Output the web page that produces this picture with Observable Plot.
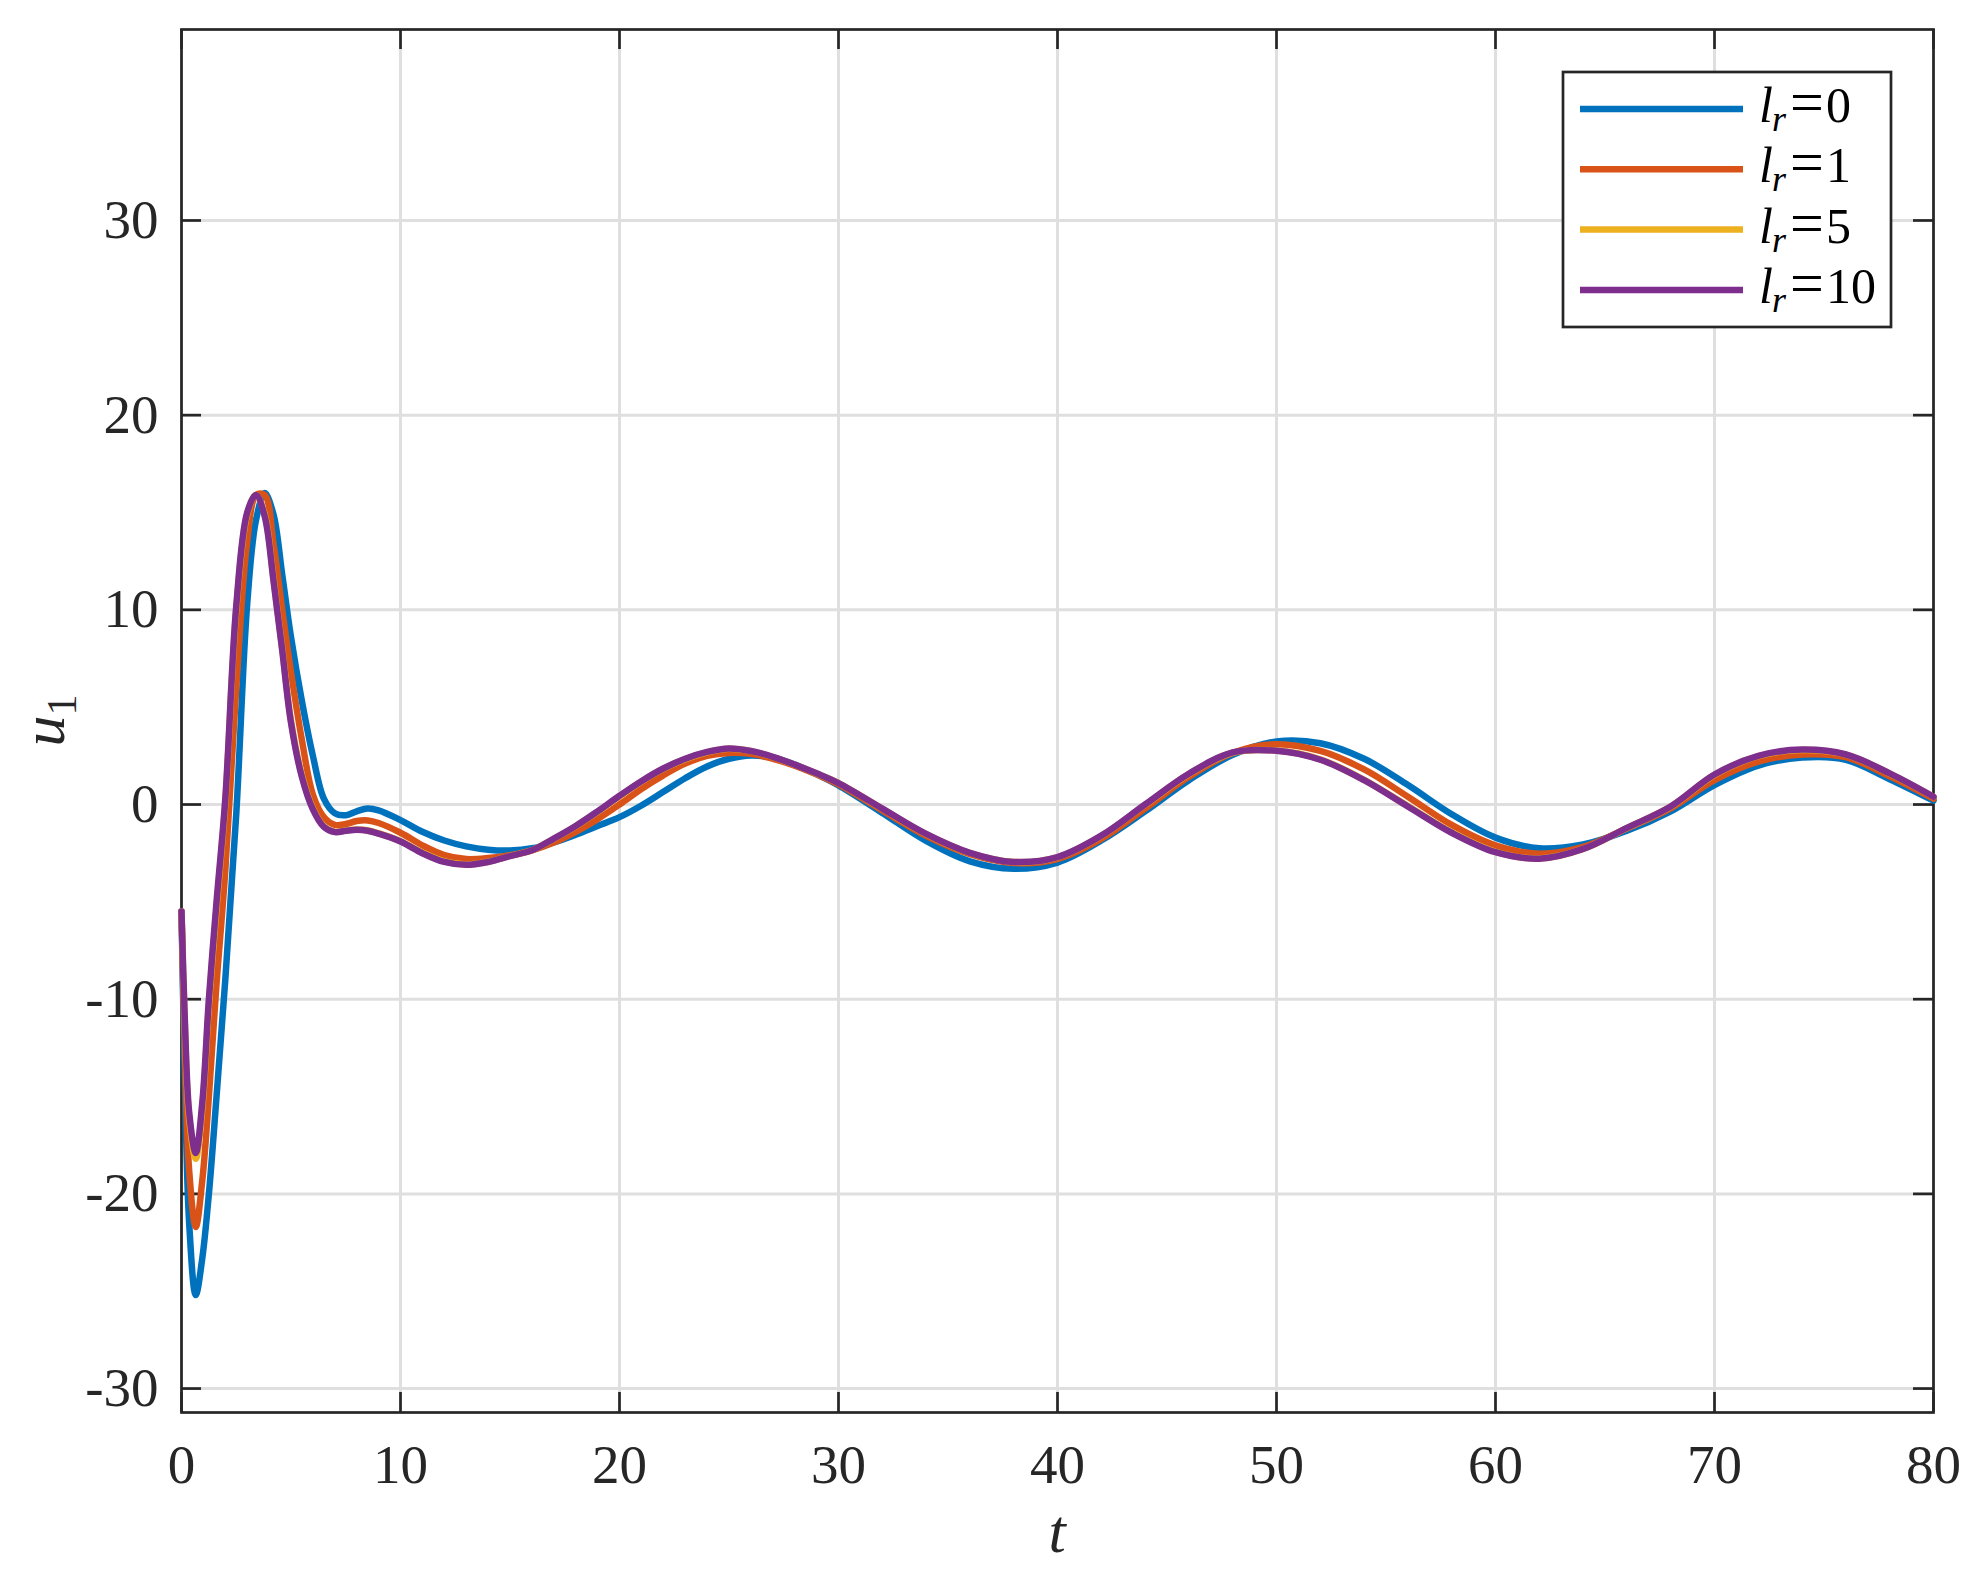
<!DOCTYPE html>
<html>
<head>
<meta charset="utf-8">
<script src="https://cdn.jsdelivr.net/npm/d3@7"></script>
<script src="https://cdn.jsdelivr.net/npm/@observablehq/plot@0.6"></script>
<style>
  body { margin: 0; background: #fff; }
  #chart { width: 1971px; height: 1571px; }
</style>
</head>
<body>
<div id="chart"></div>
<script>
// ---- data ----
const T = [0, 0.15, 0.35, 0.65, 0.95, 1.25, 1.6, 2.0, 2.5, 3.0,
  3.4, 3.8, 4.2, 4.6, 5.0, 5.5, 6.0, 6.5, 7.0, 7.5,
  8.0, 8.5, 9.0, 10, 11, 12, 13, 14, 15, 16,
  17, 18, 19, 20, 21, 22, 23, 24, 25, 26,
  27, 28, 29, 30, 32, 34, 36, 38, 40, 42,
  44, 46, 48, 50, 52, 54, 56, 58, 60, 62,
  64, 66, 68, 70, 72, 74, 76, 78, 80];

const U_lr0 = [-5.5, -14.0, -21.5, -25.2, -23.3, -20.0, -15.0, -9.0, -0.5, 10.3,
  14.6, 16.0, 14.9, 11.8, 8.6, 5.3, 2.5, 0.3, -0.45, -0.55,
  -0.35, -0.2, -0.3, -0.8, -1.4, -1.85, -2.15, -2.32, -2.36, -2.25,
  -1.95, -1.55, -1.1, -0.65, -0.05, 0.65, 1.35, 1.95, 2.35, 2.52,
  2.4, 2.05, 1.55, 0.98, -0.43, -1.87, -2.92, -3.3, -2.98, -1.85,
  -0.35, 1.25, 2.55, 3.24, 3.15, 2.35, 1.0, -0.5, -1.7, -2.25,
  -2.05, -1.35, -0.35, 1.0, 2.0, 2.41, 2.3, 1.3, 0.2];

const U_lr1 = [-5.5, -12.5, -18.8, -21.7, -19.3, -15.0, -9.2, -3.4, 6.0, 13.5,
  15.9, 15.9, 13.4, 10.0, 6.8, 3.3, 0.5, -0.65, -1.05, -1.0,
  -0.85, -0.82, -0.95, -1.45, -2.1, -2.6, -2.8, -2.75, -2.6, -2.35,
  -1.95, -1.4, -0.75, 0.0, 0.8, 1.5, 2.1, 2.5, 2.65, 2.6,
  2.35, 2.0, 1.55, 1.03, -0.31, -1.61, -2.55, -3.0, -2.8, -1.77,
  -0.21, 1.42, 2.65, 3.1, 2.75, 1.8, 0.4, -1.05, -2.1, -2.53,
  -2.18, -1.23, -0.2, 1.25, 2.2, 2.57, 2.43, 1.45, 0.3];

const U_lr5 = [-5.5, -11.2, -16.1, -18.2, -15.6, -10.3, -5.3, 0.1, 10.0, 14.9,
  15.9, 14.9, 11.6, 8.0, 4.3, 1.5, -0.2, -1.12, -1.4, -1.33,
  -1.28, -1.32, -1.48, -1.88, -2.47, -2.92, -3.08, -2.94, -2.64, -2.35,
  -1.76, -1.12, -0.38, 0.42, 1.18, 1.83, 2.33, 2.68, 2.86, 2.74,
  2.44, 2.04, 1.59, 1.1, -0.22, -1.52, -2.49, -2.95, -2.71, -1.61,
  -0.02, 1.56, 2.66, 2.77, 2.32, 1.27, -0.08, -1.43, -2.43, -2.77,
  -2.28, -1.21, -0.11, 1.52, 2.48, 2.8, 2.56, 1.59, 0.4];

const U_lr10 = [-5.5, -11.0, -15.8, -17.9, -15.3, -10.0, -5.0, 0.3, 10.2, 15.0,
  15.9, 14.8, 11.5, 7.9, 4.2, 1.4, -0.25, -1.15, -1.42, -1.35,
  -1.3, -1.35, -1.5, -1.9, -2.5, -2.95, -3.1, -2.95, -2.65, -2.35,
  -1.75, -1.1, -0.35, 0.45, 1.2, 1.85, 2.35, 2.7, 2.88, 2.75,
  2.45, 2.05, 1.6, 1.1, -0.21, -1.51, -2.48, -2.95, -2.7, -1.6,
  0.0, 1.58, 2.68, 2.76, 2.3, 1.25, -0.1, -1.45, -2.45, -2.78,
  -2.28, -1.2, -0.1, 1.54, 2.5, 2.82, 2.57, 1.6, 0.4];

const seriesKeys = ["lr0", "lr1", "lr5", "lr10"];
const seriesValues = ["0", "1", "5", "10"];
const seriesColors = ["#0072BD", "#D95319", "#EDB120", "#7E2F8E"];
const xTicks = [0, 10, 20, 30, 40, 50, 60, 70, 80];
const yTicks = [-30, -20, -10, 0, 10, 20, 30];
const xDomain = [0, 80];
const yDomain = [-31.23, 39.81];

// ---- build table ----
const allSeries = [U_lr0, U_lr1, U_lr5, U_lr10];
const rows = [];
allSeries.forEach((arr, k) => arr.forEach((u, i) => rows.push({ t: T[i], u, s: seriesKeys[k] })));

const W = 1971, H = 1571;
const mL = 181, mR = 38, mT = 29, mB = 159;
const innerW = W - mL - mR, innerH = H - mT - mB;
const ink = "#262626";
const fmt = d => (d < 0 ? "-" + Math.abs(d) : String(d));
const FONT = "'Liberation Serif', 'DejaVu Serif', serif";

const chart = Plot.plot({
  width: W, height: H,
  marginLeft: mL, marginRight: mR, marginTop: mT, marginBottom: mB,
  style: { fontFamily: FONT, fontSize: "55px", color: ink, background: "#fff", overflow: "visible" },
  x: { domain: xDomain },
  y: { domain: yDomain },
  color: { domain: seriesKeys, range: seriesColors },
  marks: [
    Plot.gridX(xTicks, { stroke: "#dfdfdf", strokeOpacity: 1, strokeWidth: 3 }),
    Plot.gridY(yTicks, { stroke: "#dfdfdf", strokeOpacity: 1, strokeWidth: 3 }),
    Plot.frame({ stroke: ink, strokeWidth: 2.7 }),
    Plot.tickX(xTicks, { x: d => d, stroke: ink, strokeWidth: 2.7, insetTop: innerH - 20 }),
    Plot.tickX(xTicks, { x: d => d, stroke: ink, strokeWidth: 2.7, insetBottom: innerH - 20 }),
    Plot.tickY(yTicks, { y: d => d, stroke: ink, strokeWidth: 2.7, insetRight: innerW - 20 }),
    Plot.tickY(yTicks, { y: d => d, stroke: ink, strokeWidth: 2.7, insetLeft: innerW - 20 }),
    Plot.axisX({ ticks: xTicks, tickSize: 0, tickPadding: 31, tickFormat: fmt, label: null, fontSize: 55 }),
    Plot.axisY({ ticks: yTicks, tickSize: 0, tickPadding: 23, tickFormat: fmt, label: null, fontSize: 55 }),
    Plot.line(rows, { x: "t", y: "u", z: "s", stroke: "s", strokeWidth: 6.5, curve: "catmull-rom" })
  ]
});
document.getElementById("chart").appendChild(chart);

// ---- axis labels & legend ----
const svg = d3.select(chart);
svg.append("text")
  .attr("x", mL + innerW / 2).attr("y", 1552)
  .attr("text-anchor", "middle")
  .attr("font-family", FONT).attr("font-style", "italic").attr("font-size", 62)
  .attr("fill", ink).text("t");

const yl = svg.append("text")
  .attr("transform", `translate(64, ${mT + innerH / 2}) rotate(-90)`)
  .attr("text-anchor", "middle")
  .attr("font-family", FONT).attr("font-size", 62).attr("fill", ink);
yl.append("tspan").attr("font-style", "italic").text("u");
yl.append("tspan").attr("font-size", 42).attr("dy", 12).text("1");

const lg = svg.append("g").attr("text-anchor", "start");
lg.append("rect").attr("x", 1563).attr("y", 72).attr("width", 328).attr("height", 255)
  .attr("fill", "#fff").attr("stroke", ink).attr("stroke-width", 2.7);
seriesValues.forEach((v, k) => {
  const cy = 109 + k * 60.3;
  lg.append("line").attr("x1", 1580).attr("x2", 1743).attr("y1", cy).attr("y2", cy)
    .attr("stroke", seriesColors[k]).attr("stroke-width", 6.5);
  const tx = lg.append("text").attr("y", cy + 13).attr("text-anchor", "start")
    .attr("font-family", FONT).attr("font-size", 50).attr("fill", "#000");
  tx.append("tspan").attr("x", 1759).attr("font-style", "italic").text("l");
  tx.append("tspan").attr("x", 1772).attr("font-style", "italic").attr("font-size", 36).attr("dy", 9).text("r");
  tx.append("tspan").attr("x", 1790).attr("dy", -9).attr("font-size", 60).text("=");
  tx.append("tspan").attr("x", 1826).text(v);
});
</script>
</body>
</html>
